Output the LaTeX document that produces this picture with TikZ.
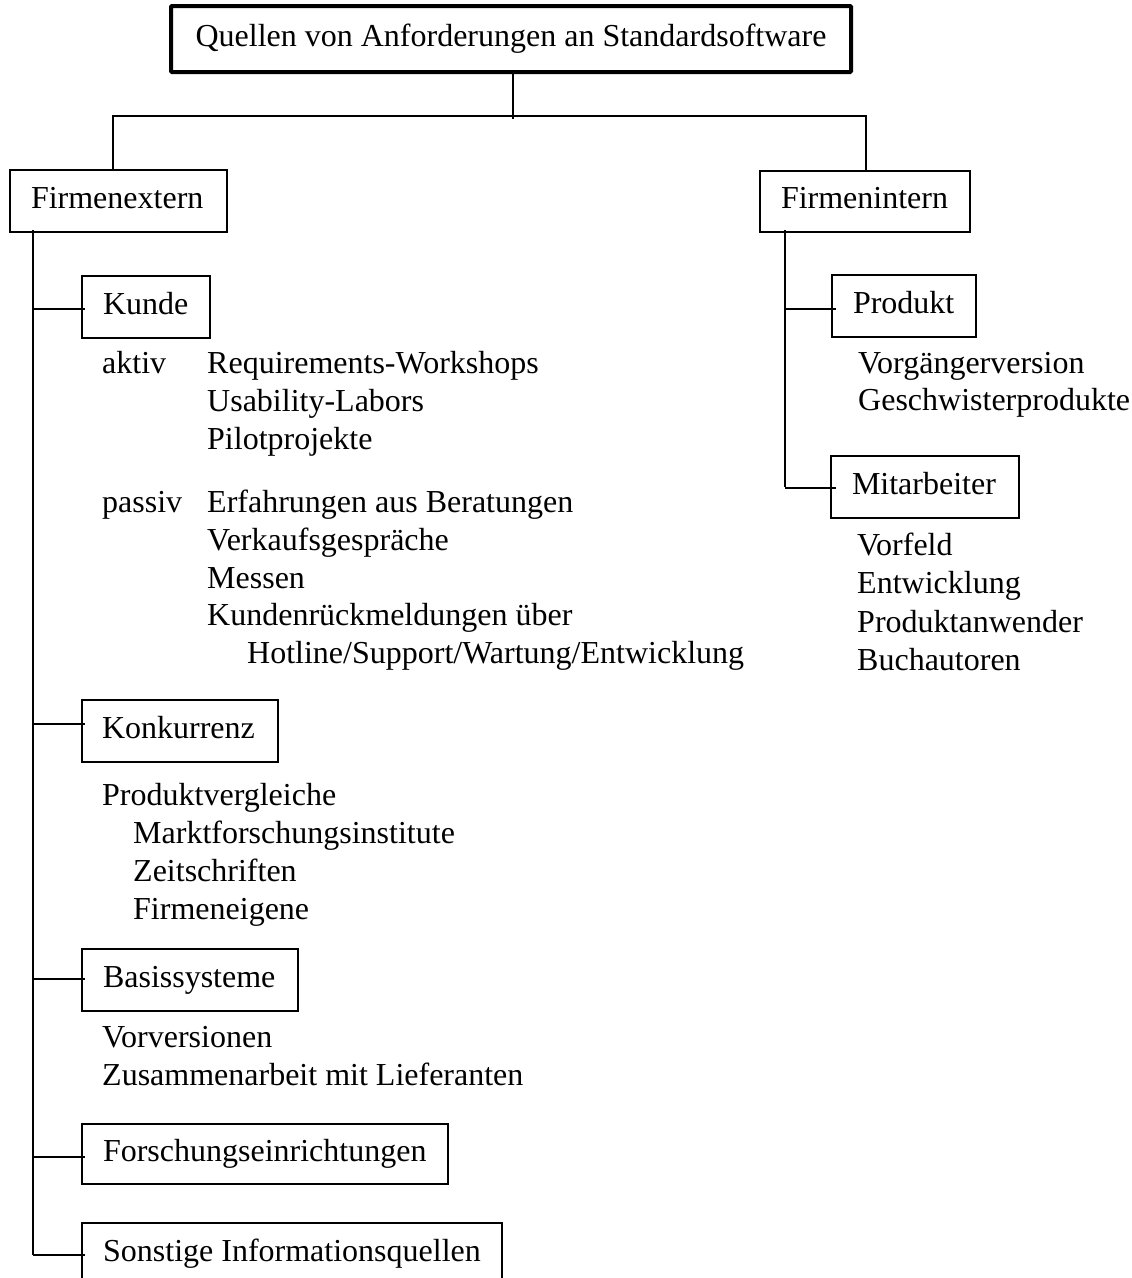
\documentclass[tikz,border=0pt]{standalone}
\usepackage{fontspec}
\setmainfont{Liberation Serif}
\usetikzlibrary{calc}
\hyphenpenalty=10000
\exhyphenpenalty=10000
\begin{document}
\begin{tikzpicture}[x=1pt,y=-1pt,
  every node/.style={font=\fontsize{32}{38}\selectfont},
  box/.style={draw, line width=2pt, text width=#1, align=left, inner xsep=21pt,
    inner ysep=0pt, minimum height=62pt, text height=22.4pt, text depth=8pt,
    anchor=north west},
  widebox/.style={draw, line width=2pt, minimum width=#1, inner xsep=0pt,
    inner ysep=0pt, minimum height=62pt, text height=22.4pt, text depth=8pt,
    anchor=north west},
  rootbox/.style={draw, line width=4pt, rounded corners=1pt, inner xsep=0pt, inner ysep=0pt,
    minimum width=680pt, minimum height=66pt, text height=22.4pt, text depth=8pt},
  conn/.style={line width=2pt},
  txt/.style={anchor=base west, inner sep=0pt}]
\useasboundingbox (0,0) rectangle (1132,1278);
\clip (0,0) rectangle (1132,1278);

% boxes
\node[rootbox] (root) at (511,39) {Quellen von Anforderungen an Standardsoftware};
\node[box=175pt] (ext) at (9,169) {Firmenextern};
\node[box=168pt, minimum height=61pt] (int) at (759,170) {Firmenintern};
\node[box=86pt] (kunde) at (81,275) {Kunde};
\node[box=102pt] (produkt) at (831,274) {Produkt};
\node[box=146pt] (mitarb) at (830,455) {Mitarbeiter};
\node[box=156pt, inner xsep=20pt] (konk) at (81,699) {Konkurrenz};
\node[box=174pt] (basis) at (81,948) {Basissysteme};
\node[box=324pt, minimum height=60pt] (forsch) at (81,1123) {Forschungseinrichtungen};
\node[widebox=420pt] (sonst) at (81,1222) {Sonstige Informationsquellen};

% Kunde texts
\node[txt] (aktiv) at (102,373) {aktiv};
\node[txt] (k1) at (207,373) {Requirements-Workshops};
\node[txt] (k2) at (207,411) {Usability-Labors};
\node[txt] (k3) at (207,449) {Pilotprojekte};
\node[txt] (passiv) at (102,512) {passiv};
\node[txt] (k4) at (207,512) {Erfahrungen aus Beratungen};
\node[txt] (k5) at (207,550) {Verkaufsgespräche};
\node[txt] (k6) at (207,588) {Messen};
\node[txt] (k7) at (207,625) {Kundenrückmeldungen über};
\node[txt] (k8) at (247,663) {Hotline/Support/Wartung/Entwicklung};

% Konkurrenz texts
\node[txt] (c1) at (102,805) {Produktvergleiche};
\node[txt] (c2) at (133,843) {Marktforschungsinstitute};
\node[txt] (c3) at (133,881) {Zeitschriften};
\node[txt] (c4) at (133,919) {Firmeneigene};

% Basissysteme texts
\node[txt] (b1) at (102,1047) {Vorversionen};
\node[txt] (b2) at (102,1085) {Zusammenarbeit mit Lieferanten};

% Produkt texts
\node[txt] (p1) at (858,373) {Vorgängerversion};
\node[txt] (p2) at (858,410) {Geschwisterprodukte};

% Mitarbeiter texts
\node[txt] (m1) at (857,555) {Vorfeld};
\node[txt] (m2) at (857,593) {Entwicklung};
\node[txt] (m3) at (857,632) {Produktanwender};
\node[txt] (m4) at (857,670) {Buchautoren};

% connectors top level
\coordinate (hub) at (513,116);
\coordinate (hl) at (113,116);
\coordinate (hr) at (866,116);
\draw[conn] (root.south -| hub) -- ($(hub)+(0,3)$);
\draw[conn] (hl |- ext.north) -- (hl) -- (hr) -- (hr |- int.north);

% left stem
\coordinate (ls) at (33,1255);
\draw[conn] ($(ext.south -| ls)+(0,-3)$) -- (ls);
\draw[conn] ($(kunde.west)+(-48,2)$) -- ($(kunde.west)+(4,2)$);
\draw[conn] ($(konk.west)+(-48,-7)$) -- ($(konk.west)+(4,-7)$);
\draw[conn] ($(basis.west)+(-48,-1)$) -- ($(basis.west)+(4,-1)$);
\draw[conn] ($(forsch.west)+(-48,3)$) -- ($(forsch.west)+(4,3)$);
\draw[conn] ($(sonst.west)+(-48,1)$) -- ($(sonst.west)+(4,1)$);

% right stem
\coordinate (rs) at (785,487);
\draw[conn] ($(int.south -| rs)+(0,-3)$) -- (rs);
\draw[conn] ($(produkt.west)+(-46,3)$) -- ($(produkt.west)+(5,3)$);
\draw[conn] ($(mitarb.west)+(-45,1)$) -- ($(mitarb.west)+(6,1)$);
\end{tikzpicture}
\end{document}
